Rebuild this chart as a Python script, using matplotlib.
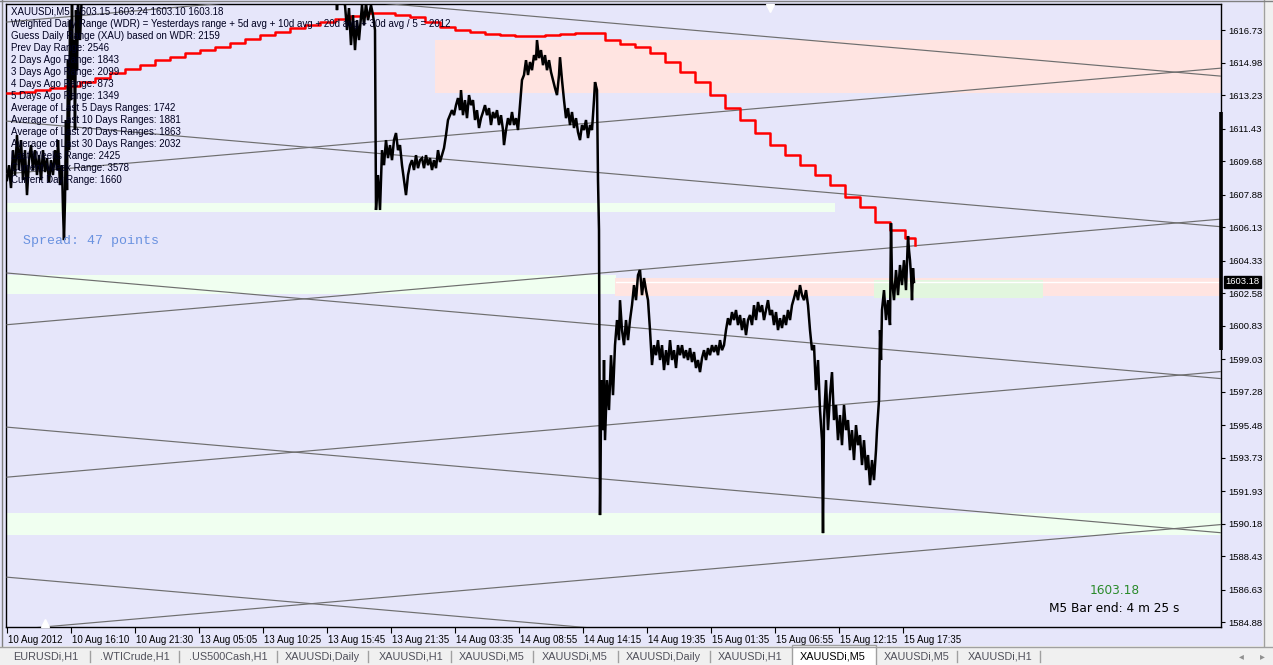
import numpy as np
import matplotlib.pyplot as plt
import matplotlib.transforms as mtransforms
from matplotlib.patches import Rectangle

# ---- data (x = M5 bar index from the first visible bar) ----
bars = [0, 2, 4, 6, 8, 10, 12, 14, 16, 18, 20, 22, 24, 26, 28, 30, 32, 34, 36, 38, 40, 42, 44, 46, 48, 50, 51, 53, 55, 56, 57, 58,
        59, 60, 61, 62, 63, 64, 65, 66, 67, 68, 69, 70, 71, 73, 75, 77, 327,
        329, 330, 331, 338, 340, 342, 344, 346, 348, 350, 352, 355, 357, 359, 361, 364, 366, 368, 369, 371,
        373, 375, 377, 379, 381, 383, 385, 387, 389, 391, 393, 395, 397, 399, 401, 403, 405, 407, 409, 411, 413, 415, 417,
        419, 421, 423, 425, 427, 429, 431, 433, 435, 437,
        439, 441, 443, 445, 447, 449, 451, 453, 454, 456, 458, 460, 462, 464, 466, 468, 470, 472, 474, 476, 478, 480, 482,
        484, 486, 488, 490, 492, 494, 496, 497, 499, 501, 503, 505, 507, 509, 511, 513,
        515, 517, 519, 521, 523, 525, 527, 529, 530, 532, 534, 536, 538, 540, 542, 544, 546, 548, 550, 552, 553, 555, 557,
        559, 561, 563, 565, 567, 569, 571, 573, 575, 577, 579, 581, 583, 585, 587, 588, 590, 591, 592, 593, 594,
        595, 596, 597, 598, 600, 602, 604, 606, 608, 610, 612, 613, 615, 617, 619, 621, 623, 625, 627, 629, 631, 633, 635,
        637, 639, 641, 643, 645, 647,
        649, 651, 653, 655, 657, 659, 661, 663, 665, 667, 669, 671, 673, 675, 677, 679, 681, 683, 685, 687, 689, 691, 693,
        695, 697, 699, 701, 703, 705, 707, 709, 711, 713, 715, 717, 719, 721, 723, 725, 727, 729, 731, 733, 735, 737, 739, 741,
        743, 745, 747, 749, 751, 753, 755, 757, 759, 761, 763, 765, 767, 769, 771, 773, 775, 777, 779, 781, 783, 785, 787,
        789, 791, 793, 795, 797, 799, 801, 803, 805,
        807, 809, 811, 813, 815, 816, 817, 819, 821, 823, 825, 827, 829, 831, 833, 835, 837, 839, 841, 843, 845, 847, 849,
        851, 853, 855, 857, 859, 861, 863, 865, 867, 869, 870, 872, 873, 874, 875,
        877, 879, 881, 883, 884, 885, 887, 889, 891, 893, 895, 897, 899, 901, 902, 903, 904, 905, 906, 907]
prices = [1608.66, 1609.46, 1608.23, 1610.27, 1608.93, 1611.08, 1609.20, 1610.81, 1608.66, 1610.27, 1607.85, 1609.73,
          1610.54, 1609.20, 1610.27, 1608.93, 1610.00, 1608.66, 1610.27, 1609.09, 1609.84, 1608.55, 1609.73, 1608.93,
          1610.27, 1609.20, 1610.81, 1608.39, 1609.46, 1607.05, 1605.43, 1607.58,
          1611.89, 1608.12, 1615.11, 1610.27, 1617.26, 1612.96, 1618.18, 1614.04, 1616.19, 1611.35, 1617.80, 1614.57,
          1618.34, 1616.19, 1618.88, 1619.50, 1619.50,
          1618.61, 1617.80, 1618.61, 1618.07, 1616.73, 1617.91, 1615.92, 1617.53, 1615.65, 1617.26, 1616.19, 1618.07,
          1616.99, 1618.18, 1617.26, 1618.07, 1617.53, 1616.73, 1607.05, 1608.93,
          1607.05, 1610.27, 1609.46, 1610.81, 1609.84, 1610.54, 1609.73, 1610.81, 1611.19, 1610.27, 1610.54, 1609.46,
          1608.66, 1607.85, 1608.93, 1609.46, 1609.73, 1609.20, 1610.00, 1609.30, 1609.73, 1609.84, 1609.30, 1610.00,
          1609.46, 1609.84, 1609.20, 1609.73, 1609.30, 1610.27, 1609.63, 1610.00, 1610.38,
          1611.08, 1611.89, 1612.15, 1612.42, 1612.15, 1612.69, 1613.07, 1612.42, 1613.50, 1612.15, 1612.96, 1611.99,
          1613.23, 1612.69, 1612.96, 1611.89, 1612.42, 1611.46, 1611.99, 1612.32, 1612.69, 1612.15, 1612.53, 1611.62,
          1612.32, 1611.99, 1612.42, 1611.62, 1612.15, 1611.35, 1610.54, 1611.35, 1611.99, 1611.62, 1612.32, 1611.62,
          1611.99, 1611.35, 1612.69,
          1614.04, 1614.31, 1615.11, 1614.31, 1615.01, 1614.57, 1615.38, 1615.11, 1616.19, 1615.22, 1615.65, 1614.84,
          1615.38, 1614.57, 1615.11, 1614.47, 1614.04, 1613.61, 1613.23, 1614.31, 1615.27, 1614.04, 1612.96, 1611.99,
          1612.53, 1611.62, 1612.32, 1611.46, 1611.99, 1611.24, 1610.81, 1611.62, 1611.35, 1611.89, 1610.92, 1611.62,
          1611.35, 1612.96, 1613.93, 1613.50, 1608.66, 1605.97, 1590.64, 1595.75,
          1597.90, 1595.21, 1598.98, 1594.67, 1597.90, 1596.29, 1599.24, 1597.09, 1599.78, 1601.13, 1600.05, 1602.20,
          1600.59, 1599.78, 1601.13, 1600.05, 1601.13, 1601.93, 1603.01, 1602.20, 1603.55, 1603.82, 1602.47, 1603.39,
          1602.74, 1602.20, 1600.59, 1598.71, 1599.78,
          1599.24, 1600.05, 1598.98, 1599.78, 1598.44, 1599.51, 1598.71, 1600.05, 1598.98, 1599.51, 1598.55, 1599.78,
          1599.24, 1599.78, 1599.08, 1599.51, 1598.98, 1599.62, 1598.87, 1599.41, 1598.55, 1598.98, 1598.33, 1599.08,
          1599.51, 1598.98, 1599.62, 1599.24, 1599.78, 1599.41, 1599.78, 1599.24, 1600.05, 1599.51, 1599.78, 1600.59,
          1601.23, 1600.86, 1601.56, 1601.13, 1601.67, 1600.86, 1601.40, 1600.59, 1601.23, 1600.32, 1601.13,
          1601.40, 1600.86, 1601.93, 1601.13, 1602.10, 1601.56, 1601.93, 1601.13, 1601.67, 1602.20, 1601.40, 1601.67,
          1600.86, 1601.56, 1600.59, 1601.23, 1600.70, 1601.40, 1600.86, 1601.67, 1601.13, 1601.93, 1602.31, 1602.74,
          1602.20, 1603.01, 1602.47, 1602.20, 1602.74, 1601.93, 1600.59, 1599.51,
          1599.78, 1597.36, 1598.98, 1596.29, 1594.67, 1589.67, 1595.75, 1597.90, 1595.21, 1597.09, 1598.33, 1595.75,
          1596.56, 1594.67, 1596.02, 1594.40, 1596.56, 1595.21, 1595.75, 1594.13, 1595.21, 1593.60, 1595.48, 1594.40,
          1594.94, 1593.33, 1594.67, 1593.06, 1593.87, 1592.25, 1593.60, 1592.52, 1594.13, 1595.21, 1596.83, 1600.59,
          1598.98, 1601.67,
          1602.74, 1601.13, 1602.20, 1600.86, 1606.34, 1603.28, 1602.20, 1603.82, 1602.47, 1604.09, 1603.01, 1604.35,
          1602.74, 1605.65, 1604.89, 1604.35, 1603.55, 1602.20, 1603.92, 1603.18]

# red WDR step line
wdr_bars = [0, 13, 28, 43, 58, 73, 88, 103, 118, 133, 148, 163, 178, 193, 208, 223, 238, 253, 268, 283, 298, 313,
            328, 343, 358, 373, 388, 403, 418, 433, 448, 463, 478, 493, 508, 523, 538, 553, 568, 583, 598, 613, 628,
            643, 658, 673, 688, 703, 718, 733, 748, 763, 778, 793, 808, 823, 838, 853, 868, 883, 898, 908]
wdr_vals = [1613.34, 1613.39, 1613.50, 1613.61, 1613.71, 1613.93, 1614.14, 1614.41, 1614.63, 1614.84, 1615.11,
            1615.27, 1615.49, 1615.65, 1615.81, 1616.03, 1616.24, 1616.46, 1616.62, 1616.83, 1616.99, 1617.16,
            1617.32, 1617.48, 1617.64, 1617.64, 1617.53, 1617.43, 1617.16, 1616.89, 1616.73, 1616.62, 1616.51,
            1616.46, 1616.40, 1616.40, 1616.46, 1616.51, 1616.56, 1616.56, 1616.19, 1615.97, 1615.81, 1615.49,
            1615.01, 1614.47, 1613.93, 1613.23, 1612.53, 1611.89, 1611.19, 1610.54, 1610.00, 1609.46, 1608.93,
            1608.39, 1607.74, 1607.21, 1606.40, 1605.97, 1605.54, 1605.16]

# grey channel lines: price at first bar and at right edge
line_start = [1611.83, 1609.00, 1619.93, 1617.16, 1603.66, 1600.88, 1595.37, 1592.68, 1587.30, 1584.45]
line_end = [1606.15, 1614.68, 1614.25, 1622.84, 1597.98, 1606.56, 1589.69, 1598.36, 1581.62, 1590.13]

# shaded zones
zone_lo = [1613.34, 1606.94, 1602.53, 1602.44, 1602.31, 1589.56]
zone_hi = [1616.19, 1607.42, 1603.55, 1603.39, 1603.28, 1590.75]
zone_from = [428, -1, -1, 608, 867, -1]
zone_to = [1214, 828, 609, 1214, 1036, 1214]
zone_col = ['#FFE4E1', '#F0FFF0', '#F0FFF0', '#FFE4E1', '#E2F6DE', '#F0FFF0']

bid = 1603.18
range_bar = [1612.32, 1599.51]

price_ticks = [1616.73, 1614.98, 1613.23, 1611.43, 1609.68, 1607.88, 1606.13, 1604.33, 1602.58, 1600.83, 1599.03,
               1597.28, 1595.48, 1593.73, 1591.93, 1590.18, 1588.43, 1586.63, 1584.88]
time_ticks = [0, 64, 128, 192, 256, 320, 384, 448, 512, 576, 640, 704, 768, 832, 896]
time_labels = ['10 Aug 2012', '10 Aug 16:10', '10 Aug 21:30', '13 Aug 05:05', '13 Aug 10:25', '13 Aug 15:45',
               '13 Aug 21:35', '14 Aug 03:35', '14 Aug 08:55', '14 Aug 14:15', '14 Aug 19:35', '15 Aug 01:35',
               '15 Aug 06:55', '15 Aug 12:15', '15 Aug 17:35']

info_lines = ['XAUUSDi,M5  1603.15 1603.24 1603.10 1603.18',
              'Weighted Daily Range (WDR) = Yesterdays range + 5d avg + 10d avg + 20d avg + 30d avg / 5 = 2012',
              'Guess Daily Range (XAU) based on WDR: 2159',
              'Prev Day Range: 2546',
              '2 Days Ago Range: 1843',
              '3 Days Ago Range: 2099',
              '4 Days Ago Range: 873',
              '5 Days Ago Range: 1349',
              'Average of Last 5 Days Ranges: 1742',
              'Average of Last 10 Days Ranges: 1881',
              'Average of Last 20 Days Ranges: 1863',
              'Average of Last 30 Days Ranges: 2032',
              'Last Weeks Range: 2425',
              'Current Week Range: 3578',
              'Current Day Range: 1660']

tabs = ['EURUSDi,H1', '.WTICrude,H1', '.US500Cash,H1', 'XAUUSDi,Daily', 'XAUUSDi,H1', 'XAUUSDi,M5',
        'XAUUSDi,M5', 'XAUUSDi,Daily', 'XAUUSDi,H1', 'XAUUSDi,M5', 'XAUUSDi,M5', 'XAUUSDi,H1']
tab_x = [46, 135, 228, 322, 411, 492, 575, 663, 750, 833, 917, 1000]
tab_sep = [90, 179, 277, 368, 451, 533, 618, 710, 957, 1040]
active_tab = 9

# ---- figure ----
W, H = 1273, 665
fig = plt.figure(figsize=(W / 100, H / 100), dpi=100, facecolor='#E6E6FA')
px = mtransforms.Affine2D().scale(1 / W, -1 / H).translate(0, 1) + fig.transFigure

ax = fig.add_axes([6 / W, 38 / H, 1215 / W, 623 / H])
ax.set_facecolor('#E6E6FA')
ax.set_xlim(-1, 1214)
ax.set_ylim(1584.62, 1618.13)

for lo, hi, a, b, c in zip(zone_lo, zone_hi, zone_from, zone_to, zone_col):
    ax.add_patch(Rectangle((a, lo), b - a, hi - lo, facecolor=c, edgecolor='none', zorder=1))

ax.plot([609, 1214], [bid, bid], color='white', lw=1, zorder=2)

for s, e in zip(line_start, line_end):
    ax.plot([0, 1214], [s, e], color='#6E6E6E', lw=0.85, zorder=3)

ax.plot(wdr_bars, wdr_vals, drawstyle='steps-post', color='#FF0000', lw=1.8, zorder=4)
ax.plot(bars, prices, color='black', lw=1.8, zorder=5, solid_joinstyle='miter')

# axes styling like the terminal
for sp in ax.spines.values():
    sp.set_color('black')
    sp.set_linewidth(1)
ax.yaxis.tick_right()
ax.set_yticks(price_ticks)
ax.set_yticklabels(['%.2f' % v for v in price_ticks])
ax.tick_params(axis='y', direction='out', length=3, pad=2, labelsize=6.8, colors='black')
ax.set_xticks(time_ticks)
ax.set_xticklabels(time_labels)
ax.tick_params(axis='x', direction='out', length=4, pad=1.5, labelsize=7, colors='black')
shift = mtransforms.ScaledTranslation(1 / 100, 0, fig.dpi_scale_trans)
for lab in ax.get_xticklabels():
    lab.set_horizontalalignment('left')
    lab.set_transform(lab.get_transform() + shift)
for lab in ax.get_yticklabels() + ax.get_xticklabels():
    lab.set_fontfamily('Liberation Sans')

yax = mtransforms.blended_transform_factory(ax.transAxes, ax.transData)
ax.plot([1, 1], range_bar, transform=yax, color='black', lw=2.6, clip_on=False, zorder=6,
        solid_capstyle='butt')
ax.text(1.0, bid, '%.2f' % bid, transform=yax + mtransforms.ScaledTranslation(4 / 100, 0, fig.dpi_scale_trans),
        fontsize=6.8, family='Liberation Sans', color='white', va='center', ha='left', zorder=7,
        bbox=dict(boxstyle='square,pad=0.15', facecolor='black', edgecolor='black'), clip_on=False)

xax = mtransforms.blended_transform_factory(ax.transData, ax.transAxes)
ax.plot([763], [0.993], 'v', transform=xax, color='white', ms=6, clip_on=False, zorder=8)
ax.plot([38], [0.007], '^', transform=xax, color='white', ms=6, clip_on=False, zorder=8)

# info text block
for i, s in enumerate(info_lines):
    fig.text(11, 12 + 12 * i, s, transform=px, fontsize=7, family='Liberation Sans', color='#000020',
             va='center', ha='left', zorder=10)
fig.text(23, 241, 'Spread: 47 points', transform=px, fontsize=9.5, family='Liberation Mono',
         color='#6A92E0', va='center', ha='left', zorder=10)
fig.text(1115, 590, '%.2f' % bid, transform=px, fontsize=8.7, family='DejaVu Sans', color='#2A8A2A',
         va='center', ha='center', zorder=10)
fig.text(1114, 608, 'M5 Bar end: 4 m 25 s', transform=px, fontsize=8.7, family='DejaVu Sans', color='black',
         va='center', ha='center', zorder=10)

# window chrome: borders and tab bar
fig.patches.append(Rectangle((1263, 0), 10, 646, transform=px, facecolor='#F0F0F0', edgecolor='none', zorder=-1))
fig.lines.append(plt.Line2D([1264, 1264], [0, 646], transform=px, color='#A0A0A0', lw=1))
fig.lines.append(plt.Line2D([2, 2], [0, 646], transform=px, color='#808080', lw=1))
fig.lines.append(plt.Line2D([0, 1273], [1, 1], transform=px, color='#808080', lw=1))
fig.patches.append(Rectangle((0, 646), W, 19, transform=px, facecolor='#F0F0F0', edgecolor='none'))
fig.lines.append(plt.Line2D([0, 1273], [646.5, 646.5], transform=px, color='#A0A0A0', lw=1))
fig.patches.append(Rectangle((792, 645), 84, 21, transform=px, facecolor='white', edgecolor='#A0A0A0', lw=1))
for xs in tab_sep:
    fig.lines.append(plt.Line2D([xs, xs], [651, 662], transform=px, color='#A0A0A0', lw=1))
for i, (t, xc) in enumerate(zip(tabs, tab_x)):
    fig.text(xc, 656.5, t, transform=px, fontsize=7.8, family='Liberation Sans',
             color='black' if i == active_tab else '#50505A', va='center', ha='center')
fig.text(1241, 656, '\u25c2', transform=px, fontsize=7, color='#909090', va='center', ha='center')
fig.text(1262, 656, '\u25b8', transform=px, fontsize=7, color='#909090', va='center', ha='center')

fig.savefig('out.png', dpi=100, facecolor=fig.get_facecolor())
